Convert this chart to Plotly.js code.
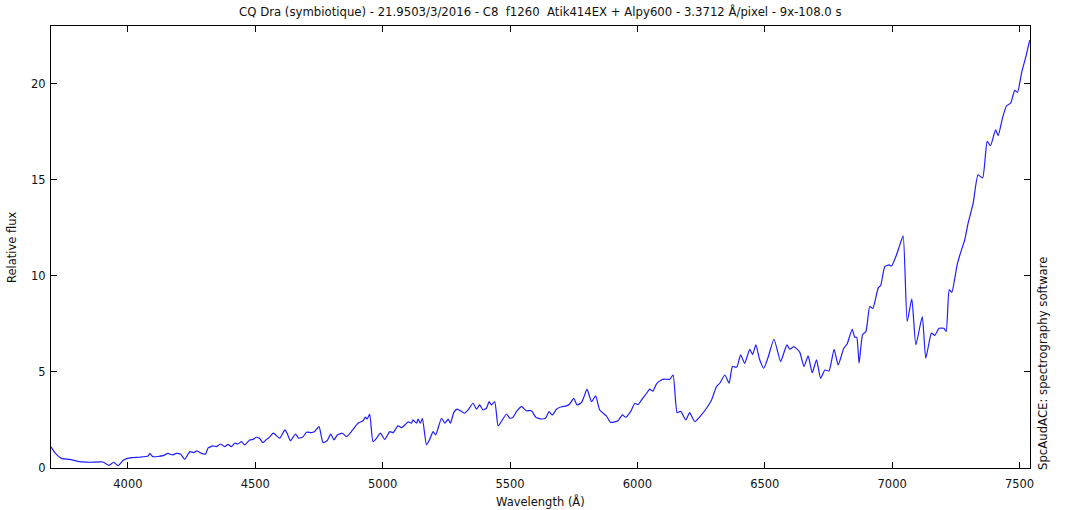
<!DOCTYPE html>
<html>
<head>
<meta charset="utf-8">
<script src="https://cdn.plot.ly/plotly-3.0.1.min.js"></script>
<style>html,body{margin:0;padding:0;background:#fff;}#chart{width:1070px;height:510px;}</style>
</head>
<body>
<div id="chart"></div>
<script>
// Wavelength (Å)
const wavelength = [
  3698,3713,3739,3771,3811,3850,3902,3926,3944,3961,3983,4014,4046,4079,4086,4098,4138,4157,4175,4190,
  4207,4223,4243,4258,4271,4288,4305,4314,4334,4347,4363,4380,4393,4406,4419,4432,4446,4458,4478,4491,
  4504,4517,4530,4544,4554,4570,4580,4596,4616,4625,4638,4658,4670,4687,4701,4720,4733,4750,4766,4782,
  4796,4809,4822,4842,4858,4877,4890,4903,4923,4932,4939,4949,4962,4976,4991,5008,5028,5041,5060,5074,
  5087,5100,5113,5119,5133,5139,5148,5156,5172,5185,5198,5208,5231,5244,5257,5266,5279,5292,5309,5322,
  5335,5355,5368,5381,5394,5407,5418,5427,5440,5453,5466,5486,5499,5512,5525,5545,5564,5584,5601,5623,
  5640,5653,5666,5682,5702,5721,5734,5750,5763,5780,5790,5802,5820,5836,5852,5878,5894,5911,5924,5941,
  5954,5973,5990,6003,6016,6036,6048,6061,6075,6094,6107,6127,6140,6156,6170,6190,6205,6225,6251,6271,
  6291,6310,6323,6343,6360,6373,6390,6405,6421,6441,6452,6465,6480,6496,6513,6536,6562,6575,6587,6598,
  6614,6637,6654,6670,6686,6703,6719,6736,6752,6772,6788,6810,6823,6843,6853,6861,6870,6884,6897,6912,
  6924,6945,6955,6971,6988,6997,7017,7030,7043,7059,7077,7093,7118,7132,7154,7167,7184,7203,7212,7224,
  7234,7255,7268,7285,7298,7318,7337,7355,7373,7386,7406,7416,7433,7449,7465,7481,7492,7508,7525,7540
];
// Relative flux
const flux = [
  1.10,0.80,0.50,0.45,0.33,0.30,0.31,0.14,0.30,0.12,0.42,0.54,0.56,0.62,0.76,0.59,0.64,0.76,0.68,0.76,
  0.72,0.45,0.85,0.80,0.89,0.76,0.73,1.03,1.15,1.11,1.25,1.11,1.23,1.11,1.29,1.25,1.37,1.20,1.46,1.49,
  1.60,1.53,1.32,1.49,1.58,1.81,1.72,1.55,1.98,1.80,1.42,1.77,1.55,1.62,1.86,1.84,1.90,2.15,1.32,1.42,
  1.76,1.46,1.72,1.81,1.63,1.89,2.12,2.33,2.46,2.65,2.55,2.81,1.37,1.55,1.81,1.49,1.89,1.84,2.19,2.10,
  2.24,2.40,2.33,2.50,2.33,2.54,2.33,2.59,1.20,1.50,1.89,1.72,2.59,2.33,2.54,2.33,2.88,3.06,2.95,2.85,
  3.02,3.37,3.06,3.28,3.02,3.11,3.45,3.28,3.45,2.19,2.42,2.81,2.59,2.64,2.93,3.19,2.98,2.98,2.64,2.55,
  2.60,2.93,2.76,3.06,3.19,3.23,3.33,3.63,3.28,3.40,3.70,4.10,3.45,3.75,3.02,2.71,2.38,2.40,2.46,2.76,
  2.64,2.93,3.37,3.30,3.54,3.89,4.10,4.00,4.38,4.58,4.62,4.62,4.84,2.88,2.95,2.50,2.88,2.41,2.76,3.11,
  3.54,4.23,4.41,4.84,4.41,5.28,5.25,5.89,5.45,6.18,5.90,6.41,5.63,5.19,5.76,6.70,5.54,6.00,6.41,6.18,
  6.32,6.03,5.28,5.83,4.96,5.63,4.67,5.10,5.05,6.18,5.36,6.23,6.45,7.22,6.81,6.80,5.45,6.95,7.10,8.40,
  8.30,9.36,9.50,10.48,10.57,10.50,11.09,11.61,12.08,7.62,8.80,6.41,7.88,5.71,7.02,6.90,7.27,7.27,7.10,9.27,
  9.15,10.57,11.18,11.88,12.74,13.78,15.26,15.09,17.00,16.77,17.60,17.29,18.21,18.85,18.99,19.65,19.55,20.56,21.42,22.26
];
const xTicks = [4000,4500,5000,5500,6000,6500,7000,7500];
const yTicks = [0,5,10,15,20];
const titleText = "CQ Dra (symbiotique) - 21.9503/3/2016 - C8\u00a0 f1260\u00a0 Atik414EX + Alpy600 - 3.3712 Å/pixel - 9x-108.0 s";
const xLabel = "Wavelength (Å)";
const yLabel = "Relative flux";
const sideNote = "SpcAudACE: spectrography software";

const fam = "DejaVu Sans, Verdana, sans-serif";
const font = {family: fam, size: 11.5, color: "#111"};

const trace = {
  x: wavelength, y: flux, type: "scatter", mode: "lines",
  line: {color: "#1e1eff", width: 1.2, shape: "spline", smoothing: 0.5},
  hoverinfo: "skip", showlegend: false
};

const axisCommon = {
  showgrid: false, zeroline: false, showline: true, linecolor: "#000", linewidth: 1,
  mirror: "ticks", ticks: "inside", ticklen: 6, tickwidth: 1, tickcolor: "#000",
  tickfont: font, automargin: false
};

const layout = {
  width: 1070, height: 510,
  margin: {l: 51, r: 40, t: 26, b: 42},
  paper_bgcolor: "#fff", plot_bgcolor: "#fff",
  font: font,
  title: {text: titleText, font: {family: fam, size: 11.7, color: "#111"}, x: 0.505, xanchor: "center", y: 0.976, yanchor: "middle"},
  xaxis: Object.assign({}, axisCommon, {
    range: [3698, 7541], tickvals: xTicks, ticktext: xTicks.map(String), ticklabelstandoff: 5
  }),
  yaxis: Object.assign({}, axisCommon, {
    range: [0, 23], tickvals: yTicks, ticktext: yTicks.map(String), ticklabelstandoff: 2
  }),
  annotations: [
    {text: xLabel, xref: "paper", yref: "paper", x: 0.4995, y: -0.0769, xanchor: "center", yanchor: "middle",
     showarrow: false, font: font},
    {text: yLabel, xref: "paper", yref: "paper", x: -0.0398, y: 0.5, xanchor: "center", yanchor: "middle",
     textangle: -90, showarrow: false, font: font},
    {text: sideNote, xref: "paper", yref: "paper", x: 1.0133, y: -0.009, xanchor: "center", yanchor: "bottom",
     textangle: -90, showarrow: false, font: {family: fam, size: 11.7, color: "#111"}}
  ]
};

Plotly.newPlot("chart", [trace], layout, {staticPlot: true, displayModeBar: false});
</script>
</body>
</html>
